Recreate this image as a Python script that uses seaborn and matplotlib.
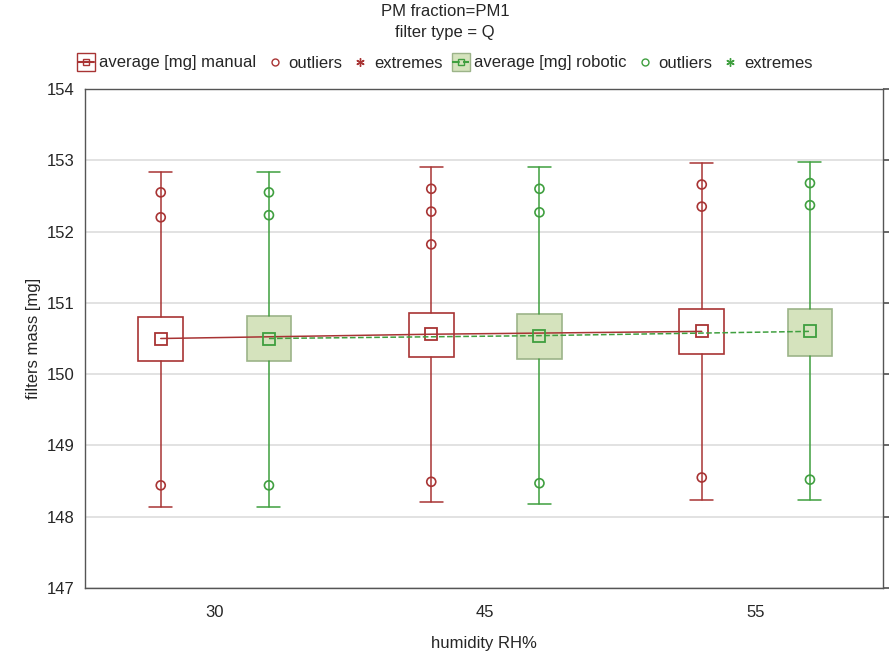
import numpy as np
import pandas as pd
import seaborn as sns
import matplotlib.pyplot as plt
from matplotlib.lines import Line2D

humidity = ["30", "45", "55"]

manual_mean = [150.50, 150.56, 150.60]
manual_box_low = [150.18, 150.24, 150.28]
manual_box_high = [150.80, 150.86, 150.91]
manual_whisk_low = [148.13, 148.20, 148.24]
manual_whisk_high = [152.84, 152.91, 152.96]
manual_outliers = [[152.55, 152.20, 148.44],
                   [152.60, 152.28, 151.82, 148.49],
                   [152.66, 152.35, 148.55]]

robotic_mean = [150.50, 150.54, 150.60]
robotic_box_low = [150.18, 150.21, 150.26]
robotic_box_high = [150.81, 150.84, 150.91]
robotic_whisk_low = [148.13, 148.18, 148.23]
robotic_whisk_high = [152.84, 152.90, 152.97]
robotic_outliers = [[152.55, 152.23, 148.44],
                    [152.60, 152.27, 148.47],
                    [152.68, 152.37, 148.52]]

RED = "#a83434"
GREEN = "#3f9f3f"
GREEN_FILL = "#d5e3bd"
GREEN_EDGE = "#9cb489"

sns.set_theme(style="whitegrid")
plt.rcParams["font.family"] = ["Liberation Sans", "DejaVu Sans"]

fig = plt.figure(figsize=(8.9, 6.54), dpi=100)
ax = fig.add_axes([85 / 890, 1 - 588 / 654, 798 / 890, 499 / 654])

groups = [
    ("manual", -0.2, manual_mean, manual_box_low, manual_box_high,
     manual_whisk_low, manual_whisk_high, manual_outliers, RED, "white", RED, (None, None)),
    ("robotic", 0.2, robotic_mean, robotic_box_low, robotic_box_high,
     robotic_whisk_low, robotic_whisk_high, robotic_outliers, GREEN, GREEN_FILL, GREEN_EDGE, (4, 3)),
]

for name, off, mean, blo, bhi, wlo, whi, outl, col, fill, edge, dash in groups:
    stats = []
    for i in range(len(humidity)):
        stats.append({"med": mean[i], "q1": blo[i], "q3": bhi[i],
                      "whislo": wlo[i], "whishi": whi[i], "fliers": []})
    pos = [i + off for i in range(len(humidity))]
    ax.bxp(stats, positions=pos, widths=0.165, patch_artist=True, showfliers=False,
           capwidths=0.085,
           boxprops=dict(facecolor=fill, edgecolor=edge, linewidth=1.2),
           whiskerprops=dict(color=col, linewidth=1.1),
           capprops=dict(color=col, linewidth=1.1),
           medianprops=dict(linewidth=0), zorder=2)
    # means connected with a line
    df = pd.DataFrame({"x": pos, "y": mean})
    line_kw = dict(linestyle="--", dashes=dash) if dash[0] else dict(linestyle="-")
    sns.lineplot(data=df, x="x", y="y", ax=ax, color=col, linewidth=1.1,
                 marker="s", markersize=8, markerfacecolor="none",
                 markeredgecolor=col, markeredgewidth=1.3, zorder=4, **line_kw)
    ox = [p for p, vals in zip(pos, outl) for _ in vals]
    oy = [v for vals in outl for v in vals]
    sns.scatterplot(x=ox, y=oy, ax=ax, marker="o", s=42, facecolor="none",
                    edgecolor=col, linewidth=1.2, zorder=5)

ax.set_xlim(-0.48, 2.47)
ax.set_ylim(147, 154)
ax.set_xticks(range(len(humidity)))
ax.set_xticklabels(humidity, fontsize=12)
ax.set_yticks(np.arange(147, 155, 1))
ax.tick_params(axis="y", labelsize=12, right=True, direction="out", length=4, color="#555555")
ax.tick_params(axis="x", bottom=False, pad=6)
ax.grid(axis="x", visible=False)
ax.grid(axis="y", color="#dddddd", linewidth=1.2)
for s in ax.spines.values():
    s.set_color("#555555")
    s.set_linewidth(1)
ax.set_xlabel("humidity RH%", fontsize=12, labelpad=12)
ax.set_ylabel("filters mass [mg]", fontsize=12)

fig.text(0.5, 1 - 12 / 654, "PM fraction=PM1", ha="center", va="center", fontsize=12)
fig.text(0.5, 1 - 33 / 654, "filter type = Q", ha="center", va="center", fontsize=12)

handles = [
    (Line2D([], [], marker="s", markersize=13, markerfacecolor="white", markeredgecolor=RED, linestyle="none"),
     Line2D([], [], marker="s", markersize=5, markerfacecolor="none", markeredgecolor=RED, linestyle="-", color=RED)),
    Line2D([], [], marker="o", markersize=5, markerfacecolor="none", markeredgecolor=RED, linestyle="none"),
    Line2D([], [], marker=(6, 2, 0), markersize=6, color=RED, linestyle="none"),
    (Line2D([], [], marker="s", markersize=13, markerfacecolor=GREEN_FILL, markeredgecolor=GREEN_EDGE, linestyle="none"),
     Line2D([], [], marker="s", markersize=5, markerfacecolor="none", markeredgecolor=GREEN, linestyle="--", color=GREEN)),
    Line2D([], [], marker="o", markersize=5, markerfacecolor="none", markeredgecolor=GREEN, linestyle="none"),
    Line2D([], [], marker=(6, 2, 0), markersize=6, color=GREEN, linestyle="none"),
]
labels = ["average [mg] manual", "outliers", "extremes",
          "average [mg] robotic", "outliers", "extremes"]
fig.legend(handles, labels, loc="center", bbox_to_anchor=(0.5, 1 - 63 / 654), ncol=6,
           frameon=False, fontsize=12, handlelength=1.0, handletextpad=0.3,
           columnspacing=0.6, borderaxespad=0)

fig.savefig("out.png", dpi=100)
